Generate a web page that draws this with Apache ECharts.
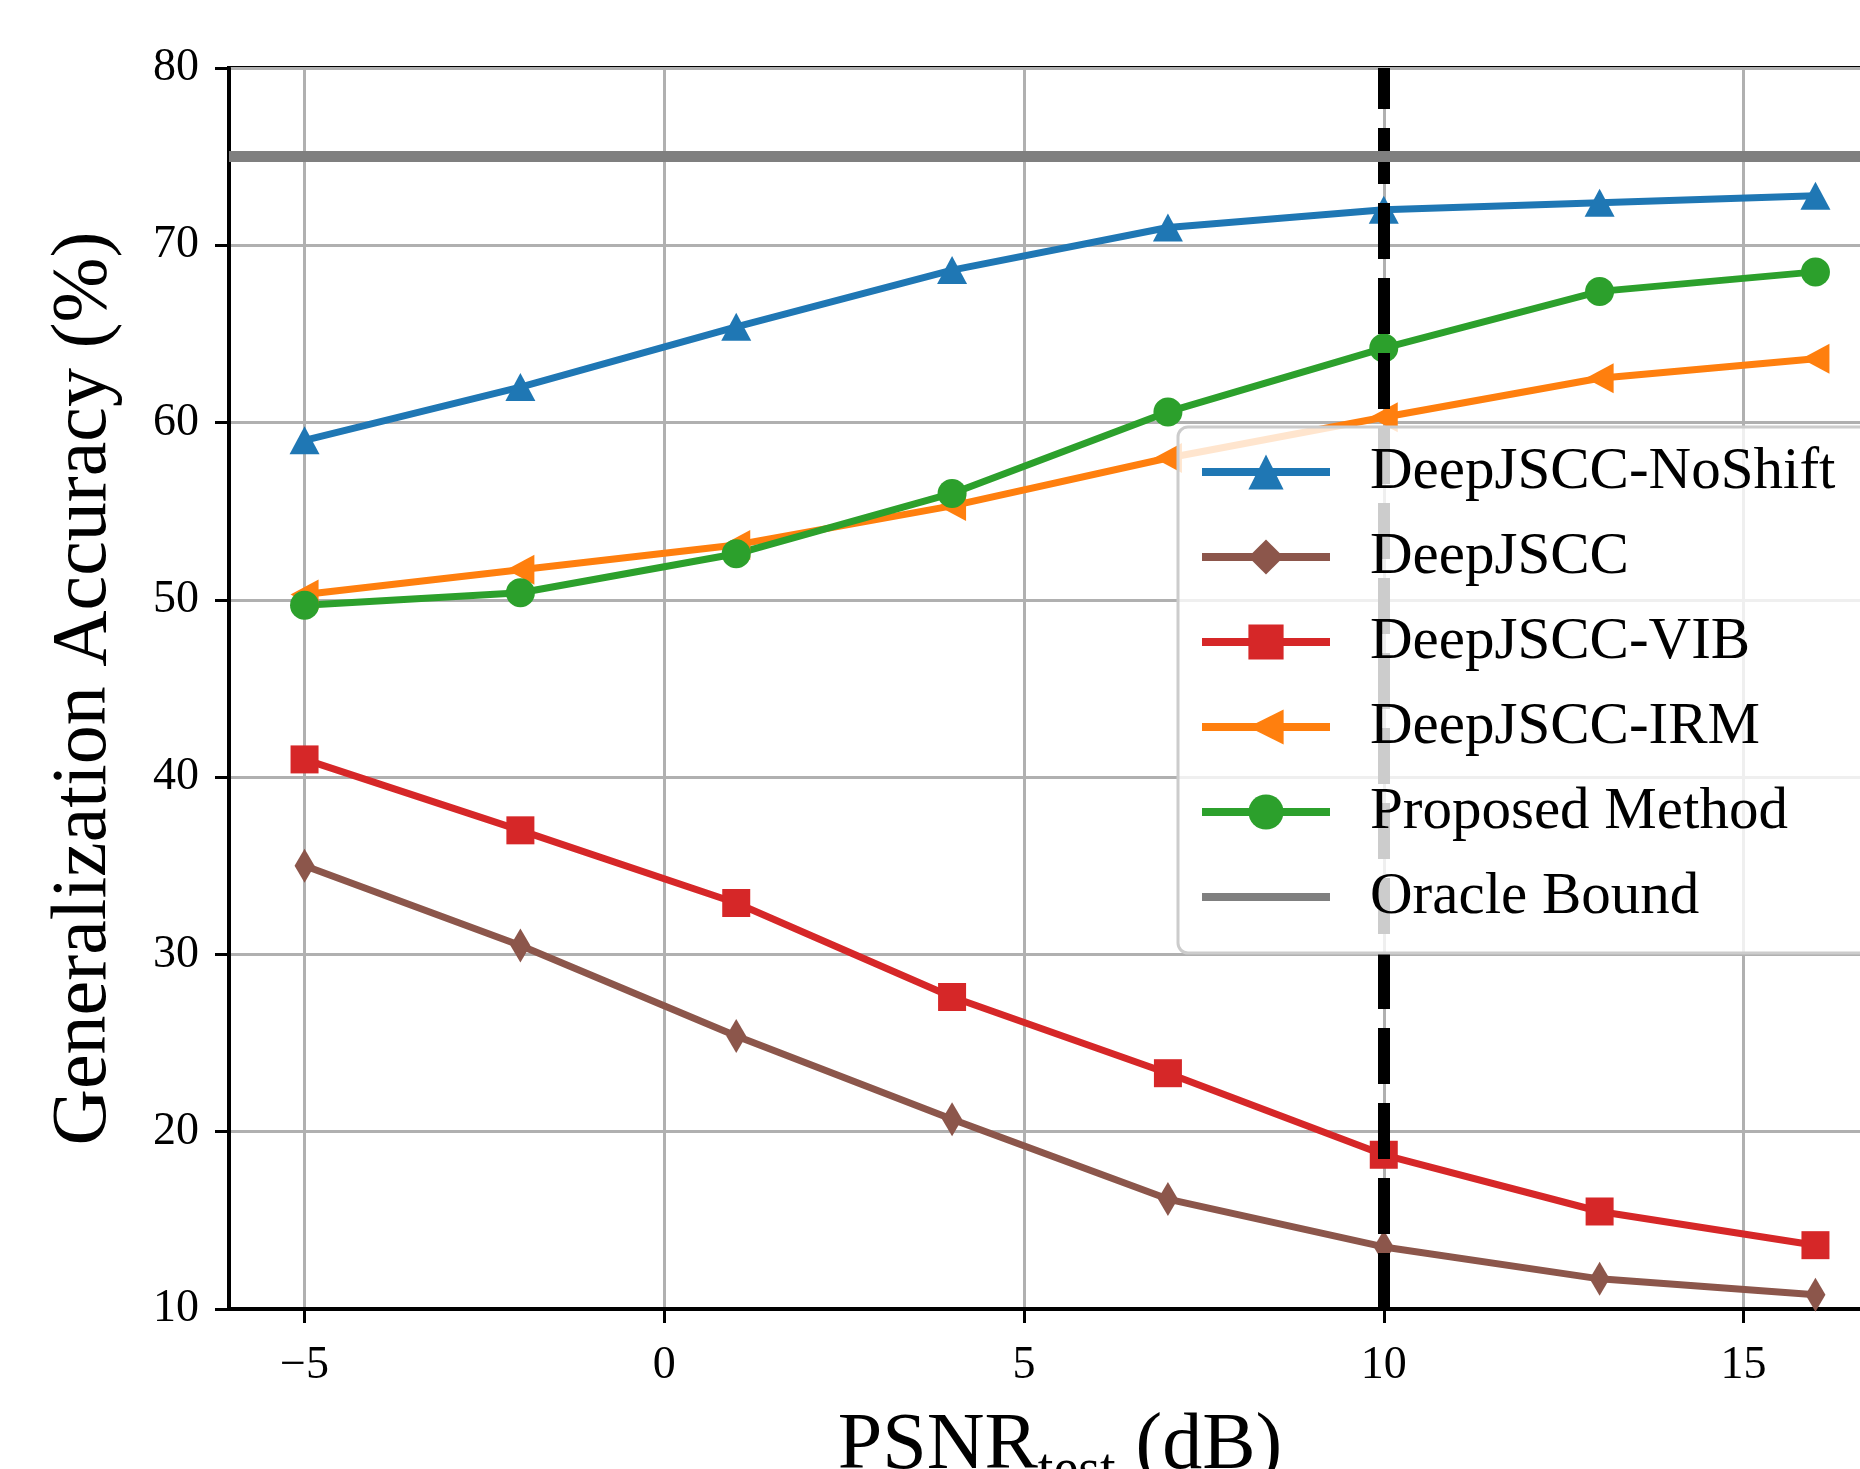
<!DOCTYPE html>
<html>
<head>
<meta charset="utf-8">
<script src="https://cdn.jsdelivr.net/npm/echarts@6/dist/echarts.min.js"></script>
<style>
  html, body { margin: 0; padding: 0; background: #fff; }
  #chart { width: 1860px; height: 1469px; }
</style>
</head>
<body>
<div id="chart"></div>
<script>
// PSNR_test values (dB)
const psnr = [-5, -2, 1, 4, 7, 10, 13, 16];
const xTicks = [-5, 0, 5, 10, 15];

// generalization accuracy (%) per method
const noShift = [59.0, 62.0, 65.4, 68.6, 71.0, 72.0, 72.4, 72.8];
const deepJscc = [35.0, 30.5, 25.4, 20.7, 16.2, 13.5, 11.7, 10.8];
const vib = [41.0, 37.0, 32.9, 27.6, 23.3, 18.7, 15.5, 13.6];
const irm = [50.3, 51.7, 53.1, 55.3, 58.0, 60.3, 62.5, 63.6];
const proposed = [49.7, 50.4, 52.6, 56.0, 60.6, 64.2, 67.4, 68.5];
const oracle = 75;
const trainPsnr = 10;

const serif = "Liberation Serif";

function pairs(ys) {
  return psnr.map((x, i) => [x, ys[i]]);
}

function lineSeries(name, ys, color, symbol, size, rotate) {
  return {
    name: name,
    type: "line",
    data: pairs(ys),
    symbol: symbol,
    symbolSize: size,
    symbolRotate: rotate || 0,
    showAllSymbol: true,
    lineStyle: { color: color, width: 7 },
    itemStyle: { color: color, borderWidth: 0 },
    z: 3,
  };
}

const chart = echarts.init(document.getElementById("chart"));
chart.setOption({
  animation: false,
  backgroundColor: "#fff",
  grid: {
    left: 229,
    top: 68,
    width: 1662,
    height: 1241,
    outerBoundsMode: "none",
    containLabel: false,
    show: true,
    borderColor: "#000",
    borderWidth: 4,
  },
  xAxis: {
    type: "value",
    min: -6.05,
    max: 17.05,
    name: "{a|PSNR}{b|test}{a| (dB)}",
    nameLocation: "middle",
    nameGap: 66,
    nameTextStyle: {
      rich: {
        a: { fontFamily: serif, fontSize: 80, lineHeight: 80, color: "#000" },
        b: {
          fontFamily: serif,
          fontSize: 56,
          lineHeight: 56,
          color: "#000",
          padding: [50, 0, 0, 0],
        },
      },
    },
    axisLine: { onZero: false, lineStyle: { color: "#000", width: 4 } },
    axisTick: {
      inside: false,
      length: 14,
      customValues: xTicks,
      lineStyle: { color: "#000", width: 3 },
    },
    axisLabel: {
      customValues: xTicks,
      margin: 34,
      fontFamily: serif,
      fontSize: 46,
      color: "#000",
      formatter: (v) => (v < 0 ? "\u2212" + Math.abs(v) : String(v)),
    },
    splitLine: { show: true, lineStyle: { color: "#b0b0b0", width: 3 } },
  },
  yAxis: {
    type: "value",
    min: 10,
    max: 80,
    interval: 10,
    name: "Generalization Accuracy (%)",
    nameLocation: "middle",
    nameGap: 105,
    nameTextStyle: {
      fontFamily: serif,
      fontSize: 78,
      lineHeight: 78,
      color: "#000",
    },
    axisLine: { onZero: false, lineStyle: { color: "#000", width: 4 } },
    axisTick: { inside: false, length: 14, lineStyle: { color: "#000", width: 3 } },
    axisLabel: { margin: 30, fontFamily: serif, fontSize: 46, color: "#000" },
    splitLine: { show: true, lineStyle: { color: "#b0b0b0", width: 3 } },
  },
  legend: {
    orient: "vertical",
    left: 1178,
    top: 427,
    data: [
      "DeepJSCC-NoShift",
      "DeepJSCC",
      "DeepJSCC-VIB",
      "DeepJSCC-IRM",
      "Proposed Method",
      { name: "Oracle Bound", itemStyle: { opacity: 0 } },
    ],
    itemWidth: 128,
    itemHeight: 44,
    itemGap: 25,
    padding: [15, 40, 26, 20],
    backgroundColor: "rgba(255,255,255,0.8)",
    borderColor: "#cccccc",
    borderWidth: 3,
    borderRadius: 10,
    lineStyle: { width: 8 },
    textStyle: {
      fontFamily: serif,
      fontSize: 59,
      lineHeight: 60,
      color: "#000",
      padding: [0, 0, 0, 35],
    },
    z: 10,
  },
  series: [
    {
      name: "train",
      type: "line",
      data: [],
      z: 1,
      markLine: {
        silent: true,
        symbol: "none",
        label: { show: false },
        lineStyle: { color: "#000", width: 12, type: [56, 19] },
        data: [{ xAxis: trainPsnr }],
      },
    },
    lineSeries("DeepJSCC-NoShift", noShift, "#1f77b4", "triangle", [30, 28]),
    lineSeries("DeepJSCC", deepJscc, "#8c564b", "diamond", [20, 34]),
    lineSeries("DeepJSCC-VIB", vib, "#d62728", "rect", [28, 28]),
    lineSeries("DeepJSCC-IRM", irm, "#ff7f0e", "triangle", [30, 28], 90),
    lineSeries("Proposed Method", proposed, "#2ca02c", "circle", 29),
    {
      name: "Oracle Bound",
      type: "line",
      data: [],
      symbol: "none",
      lineStyle: { color: "#7f7f7f", width: 11 },
      itemStyle: { color: "#7f7f7f" },
      z: 2,
      markLine: {
        silent: true,
        symbol: "none",
        label: { show: false },
        lineStyle: { color: "#7f7f7f", width: 11, type: "solid" },
        data: [{ yAxis: oracle }],
      },
    },
  ],
});
</script>
</body>
</html>
